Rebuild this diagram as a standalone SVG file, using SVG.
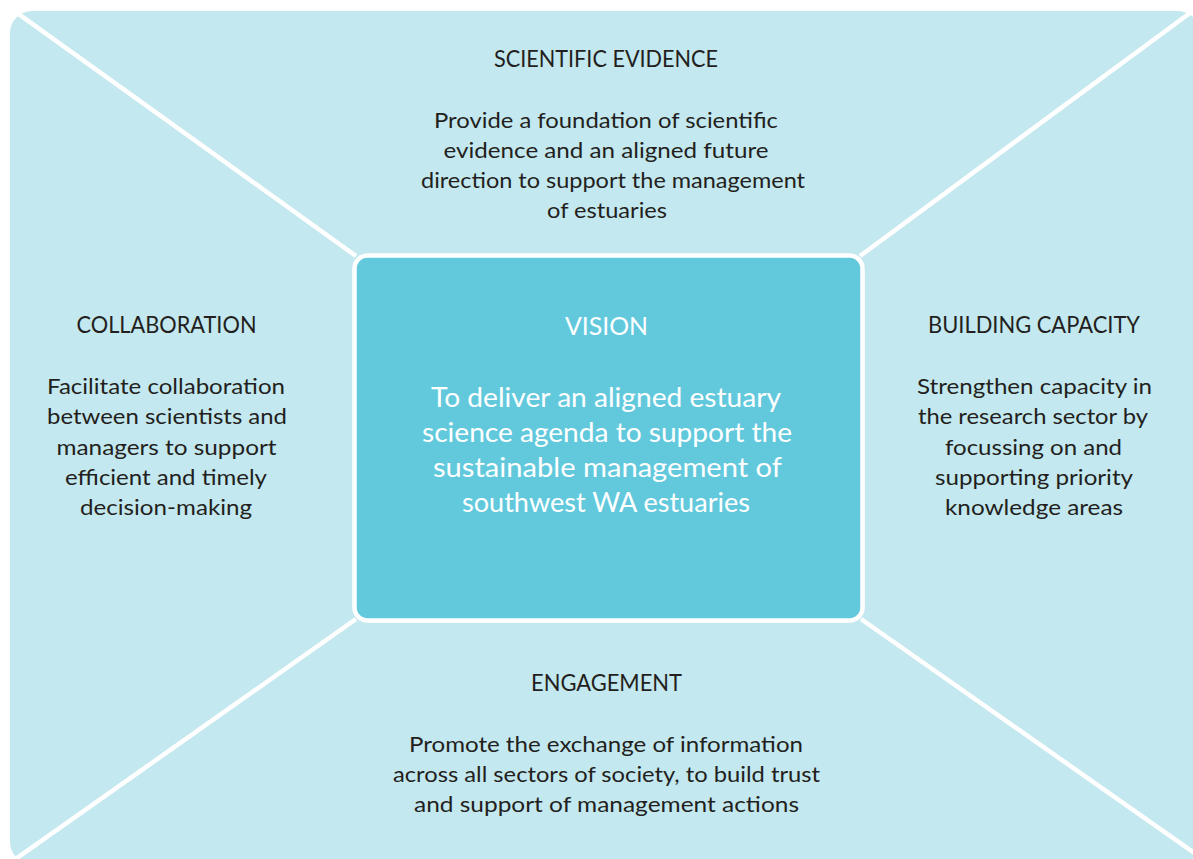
<svg xmlns="http://www.w3.org/2000/svg" width="1193" height="859" viewBox="0 0 1193 859">
<style>
.t{font-family:Lato,"Open Sans","Liberation Sans",sans-serif;fill:#231f20;text-anchor:middle}
.h{font-size:23.5px}
.b{font-size:21px}
.v{font-family:Lato,"Open Sans","Liberation Sans",sans-serif;fill:#ffffff;text-anchor:middle}
.vh{font-size:25.5px}
.vb{font-size:26px}
.ln{stroke:#ffffff;stroke-width:4.5;fill:none}
</style>
<rect width="1193" height="859" fill="#ffffff"/>
<rect id="background" x="10" y="11" width="1190" height="853" rx="22" ry="22" fill="#c3e8ef"/>
<g id="connectors">
<line class="ln" x1="0" y1="0.7" x2="356" y2="256"/>
<line class="ln" x1="1200" y1="5.6" x2="860" y2="256"/>
<line class="ln" x1="0" y1="870" x2="356" y2="619"/>
<line class="ln" x1="1200" y1="857" x2="861" y2="619"/>
</g>
<g id="scientific-evidence">
<text class="t h" x="606" y="67" textLength="224" lengthAdjust="spacingAndGlyphs">SCIENTIFIC EVIDENCE</text>
<text class="t b" x="606" y="128" textLength="344" lengthAdjust="spacingAndGlyphs">Provide a foundation of scientific</text>
<text class="t b" x="606" y="158" textLength="325" lengthAdjust="spacingAndGlyphs">evidence and an aligned future</text>
<text class="t b" x="613" y="188" textLength="384" lengthAdjust="spacingAndGlyphs">direction to support the management</text>
<text class="t b" x="607" y="218" textLength="120" lengthAdjust="spacingAndGlyphs">of estuaries</text>
</g>
<g id="collaboration">
<text class="t h" x="166.5" y="333" textLength="180" lengthAdjust="spacingAndGlyphs">COLLABORATION</text>
<text class="t b" x="166" y="393.5" textLength="238" lengthAdjust="spacingAndGlyphs">Facilitate collaboration</text>
<text class="t b" x="167" y="424" textLength="240" lengthAdjust="spacingAndGlyphs">between scientists and</text>
<text class="t b" x="166.5" y="454.5" textLength="220" lengthAdjust="spacingAndGlyphs">managers to support</text>
<text class="t b" x="166" y="485" textLength="202" lengthAdjust="spacingAndGlyphs">efficient and timely</text>
<text class="t b" x="166" y="515" textLength="172" lengthAdjust="spacingAndGlyphs">decision-making</text>
</g>
<g id="building-capacity">
<text class="t h" x="1034" y="333" textLength="212" lengthAdjust="spacingAndGlyphs">BUILDING CAPACITY</text>
<text class="t b" x="1034.5" y="393.5" textLength="235" lengthAdjust="spacingAndGlyphs">Strengthen capacity in</text>
<text class="t b" x="1033" y="424" textLength="230" lengthAdjust="spacingAndGlyphs">the research sector by</text>
<text class="t b" x="1033.5" y="454.5" textLength="177" lengthAdjust="spacingAndGlyphs">focussing on and</text>
<text class="t b" x="1034" y="485" textLength="198" lengthAdjust="spacingAndGlyphs">supporting priority</text>
<text class="t b" x="1034" y="515" textLength="178" lengthAdjust="spacingAndGlyphs">knowledge areas</text>
</g>
<g id="engagement">
<text class="t h" x="606.5" y="691" textLength="151" lengthAdjust="spacingAndGlyphs">ENGAGEMENT</text>
<text class="t b" x="606" y="752" textLength="394" lengthAdjust="spacingAndGlyphs">Promote the exchange of information</text>
<text class="t b" x="606.5" y="782" textLength="427" lengthAdjust="spacingAndGlyphs">across all sectors of society, to build trust</text>
<text class="t b" x="606.5" y="812" textLength="385" lengthAdjust="spacingAndGlyphs">and support of management actions</text>
</g>
<g id="vision">
<rect x="354.5" y="255.5" width="508" height="365" rx="13" ry="13" fill="#62c9dd" stroke="#ffffff" stroke-width="4.5"/>
<text class="v vh" x="606.5" y="335" textLength="83" lengthAdjust="spacingAndGlyphs">VISION</text>
<text class="v vb" x="606" y="407" textLength="350" lengthAdjust="spacingAndGlyphs">To deliver an aligned estuary</text>
<text class="v vb" x="607" y="442" textLength="370" lengthAdjust="spacingAndGlyphs">science agenda to support the</text>
<text class="v vb" x="607.5" y="477" textLength="349" lengthAdjust="spacingAndGlyphs">sustainable management  of</text>
<text class="v vb" x="606" y="512" textLength="288" lengthAdjust="spacingAndGlyphs">southwest WA estuaries</text>
</g>
</svg>
